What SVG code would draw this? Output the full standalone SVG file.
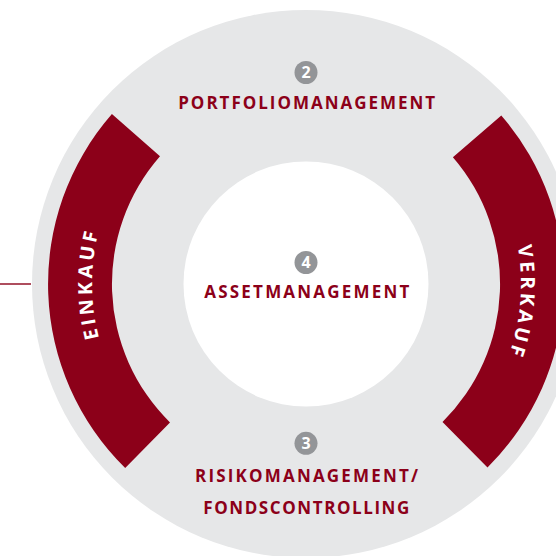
<svg xmlns="http://www.w3.org/2000/svg" width="556" height="556" viewBox="0 0 556 556">
  <style>
    .lbl { font-family: "Open Sans", "Noto Sans", "DejaVu Sans", sans-serif; font-weight: 700; fill: #8C0019; font-size: 17px; text-anchor: middle; }
    .arcLbl { font-family: "Open Sans", "Noto Sans", "DejaVu Sans", sans-serif; font-weight: 700; fill: #FFFFFF; font-size: 19.5px; letter-spacing: 3.5px; text-anchor: middle; }
    .num { fill: #939598; }
    .numTxt { font-family: "Open Sans", "Noto Sans", "DejaVu Sans", sans-serif; font-weight: 700; fill: #FFFFFF; font-size: 16px; text-anchor: middle; }
    .band { fill: #8C0019; }
  </style>
  <defs>
    <path id="pathEin" d="M 120.7 391 A 214 214 0 0 1 120.7 177"/>
    <path id="pathVer" d="M 492.2 176.5 A 215 215 0 0 1 492.2 391.5"/>
  </defs>
  <rect x="0" y="0" width="556" height="556" fill="#FFFFFF"/>
  <g id="ring">
    <circle cx="306" cy="284" r="274" fill="#E6E7E8"/>
    <circle cx="306" cy="284" r="122.5" fill="#FFFFFF"/>
  </g>
  <g id="connectors">
    <line x1="0" y1="284" x2="31" y2="284" stroke="#8C0019" stroke-width="1.4"/>
  </g>
  <g id="einkauf">
    <path class="band" d="M 111.9 114.1 A 258 258 0 0 0 125.2 468.0 L 170.0 422.4 A 194 194 0 0 1 160.0 156.2 Z"/>
    <text class="arcLbl"><textPath href="#pathEin" startOffset="50%">EINKAUF</textPath></text>
  </g>
  <g id="verkauf">
    <path class="band" d="M 501.3 115.4 A 258 258 0 0 1 487.5 467.4 L 442.5 421.9 A 194 194 0 0 0 452.9 157.2 Z"/>
    <text class="arcLbl"><textPath href="#pathVer" startOffset="58%">VERKAUF</textPath></text>
  </g>
  <g id="portfoliomanagement">
    <circle class="num" cx="306" cy="72.5" r="11.5"/>
    <text class="numTxt" x="306" y="78.3">2</text>
    <text class="lbl" x="306.7" y="108.5" textLength="257" lengthAdjust="spacing">PORTFOLIOMANAGEMENT</text>
  </g>
  <g id="assetmanagement">
    <circle class="num" cx="306" cy="262.5" r="11.5"/>
    <text class="numTxt" x="306" y="268.3">4</text>
    <text class="lbl" x="306.8" y="297.5" textLength="205" lengthAdjust="spacing">ASSETMANAGEMENT</text>
  </g>
  <g id="risikomanagement">
    <circle class="num" cx="306" cy="443.3" r="11.5"/>
    <text class="numTxt" x="306" y="449.1">3</text>
    <text class="lbl" x="306.5" y="481.9" textLength="223" lengthAdjust="spacing">RISIKOMANAGEMENT/</text>
    <text class="lbl" x="306.3" y="513.5" textLength="206" lengthAdjust="spacing">FONDSCONTROLLING</text>
  </g>
</svg>
